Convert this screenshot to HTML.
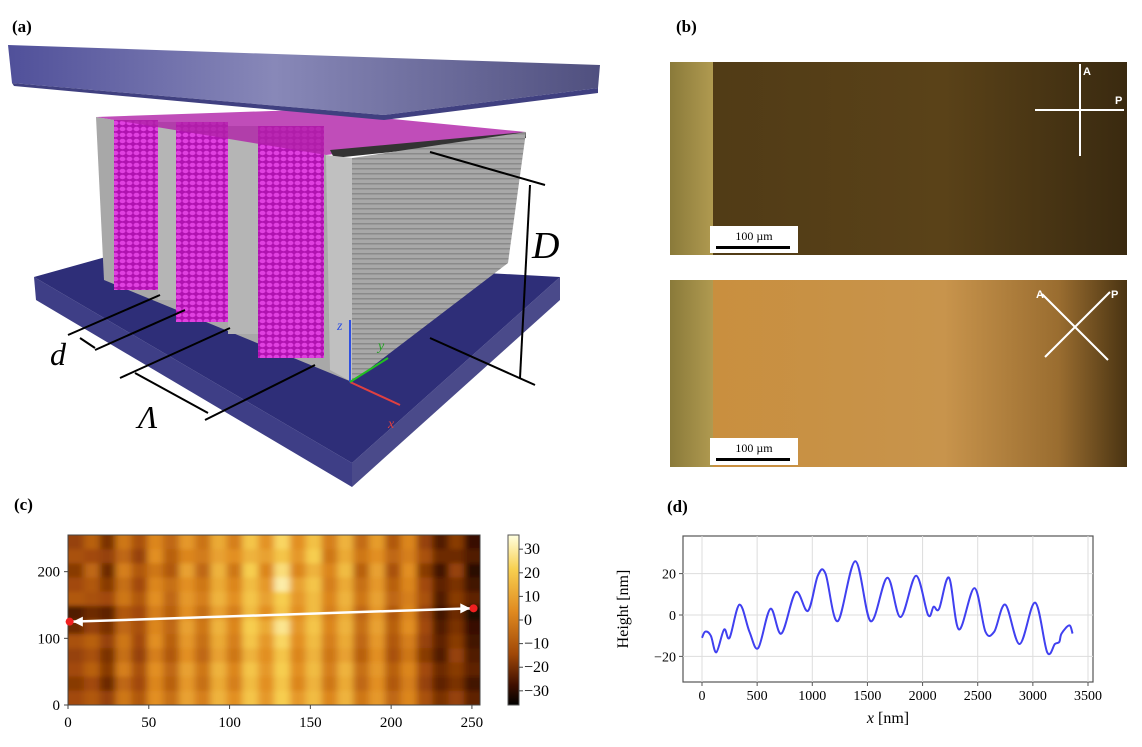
<!DOCTYPE html>
<html><head><meta charset="utf-8">
<style>
html,body{margin:0;padding:0;background:#fff;}
body{width:1142px;height:747px;position:relative;overflow:hidden;font-family:"Liberation Serif",serif;}
svg{position:absolute;left:0;top:0;}
</style></head>
<body>
<svg width="1142" height="747" viewBox="0 0 1142 747">
<defs>
<linearGradient id="plateTop" x1="0" x2="1" y1="0" y2="0">
<stop offset="0" stop-color="#50509a"/><stop offset="0.45" stop-color="#8888b8"/><stop offset="1" stop-color="#50507f"/></linearGradient>
<linearGradient id="imgTop" x1="0" x2="1"><stop offset="0" stop-color="#4f3a16"/><stop offset="0.6" stop-color="#5a4218"/><stop offset="1" stop-color="#3a2a10"/></linearGradient>
<linearGradient id="imgBot" x1="0" x2="1"><stop offset="0" stop-color="#c98e3c"/><stop offset="0.6" stop-color="#c8944c"/><stop offset="0.85" stop-color="#9a6d30"/><stop offset="1" stop-color="#4a3412"/></linearGradient>
<linearGradient id="leftStrip" x1="0" x2="1"><stop offset="0" stop-color="#8a7a3a"/><stop offset="1" stop-color="#b09a50"/></linearGradient>
<linearGradient id="cbar" x1="0" x2="0" y1="0" y2="1"><stop offset="0" stop-color="#ffffe0"/><stop offset="0.2" stop-color="#f8d050"/><stop offset="0.45" stop-color="#e08a20"/><stop offset="0.7" stop-color="#a04808"/><stop offset="0.88" stop-color="#401000"/><stop offset="1" stop-color="#000"/></linearGradient>
<pattern id="stripes" width="6" height="5" patternUnits="userSpaceOnUse"><rect width="6" height="5" fill="#a8a8a8"/><rect y="3" width="6" height="1.5" fill="#8a8a8a"/></pattern>
<pattern id="lc" width="7" height="6" patternUnits="userSpaceOnUse"><rect width="7" height="6" fill="#b012b0"/><ellipse cx="3.5" cy="3" rx="3" ry="2.2" fill="#e040e0"/></pattern>
<filter id="blur" x="0" y="0" width="1" height="1"><feGaussianBlur stdDeviation="3.5 2"/></filter>
<clipPath id="hclip"><rect x="68" y="535" width="412" height="170"/></clipPath>
</defs>

<!-- panel a -->
<g>
<text x="12" y="32" font-size="17" font-weight="bold">(a)</text>
<polygon points="34,277 352,463 352,487 36,300" fill="#3e3e86"/>
<polygon points="352,463 560,277 560,300 352,487" fill="#4a4a8a"/>
<polygon points="34,277 120,253 560,277 352,463" fill="#2e2e78"/>
<polygon points="96,117 326,155 352,382 104,280" fill="#a8a8a8"/>
<rect x="114" y="120" width="44" height="170" fill="url(#lc)"/>
<rect x="176" y="122" width="52" height="200" fill="url(#lc)"/>
<rect x="258" y="126" width="66" height="232" fill="url(#lc)"/>
<rect x="158" y="122" width="18" height="178" fill="#b5b5b5"/>
<rect x="228" y="126" width="30" height="208" fill="#b5b5b5"/>
<polygon points="96,117 300,110 526,132 326,155" fill="#b020a8" opacity="0.8"/>
<polygon points="330,150 526,132 526,138 334,158" fill="#333"/>
<polygon points="326,155 352,158 352,382 330,370" fill="#c0c0c0"/>
<polygon points="352,158 526,132 508,263 352,382" fill="url(#stripes)"/>
<polygon points="8,45 600,65 598,88 384,115 12,83" fill="url(#plateTop)"/>
<polygon points="12,83 384,115 598,88 598,93 384,120 14,86" fill="#404080"/>
<g stroke="#000" stroke-width="2" fill="none">
<line x1="430" y1="152" x2="545" y2="185"/><line x1="430" y1="338" x2="535" y2="385"/>
<line x1="530" y1="185" x2="520" y2="378"/>
<line x1="160" y1="295" x2="68" y2="335"/><line x1="185" y1="310" x2="95" y2="350"/>
<line x1="230" y1="328" x2="120" y2="378"/><line x1="315" y1="365" x2="205" y2="420"/>
<line x1="80" y1="338" x2="95" y2="348"/><line x1="135" y1="373" x2="208" y2="413"/>
</g>
<line x1="350" y1="382" x2="350" y2="320" stroke="#3050e0" stroke-width="2"/>
<line x1="350" y1="382" x2="400" y2="405" stroke="#e04040" stroke-width="2"/>
<line x1="350" y1="382" x2="388" y2="358" stroke="#20c020" stroke-width="2"/>
<text x="337" y="330" font-size="14" font-style="italic" fill="#3050e0">z</text>
<text x="378" y="350" font-size="14" font-style="italic" fill="#20a020">y</text>
<text x="388" y="428" font-size="14" font-style="italic" fill="#e04040">x</text>
<text x="532" y="258" font-size="38" font-style="italic">D</text>
<text x="50" y="365" font-size="32" font-style="italic">d</text>
<text x="138" y="428" font-size="32" font-style="italic">Λ</text>
</g>

<!-- panel b -->
<g>
<text x="676" y="32" font-size="17" font-weight="bold">(b)</text>
<rect x="670" y="62" width="457" height="193" fill="url(#imgTop)"/>
<rect x="670" y="62" width="43" height="193" fill="url(#leftStrip)"/>
<rect x="670" y="280" width="457" height="187" fill="url(#imgBot)"/>
<rect x="670" y="280" width="43" height="187" fill="url(#leftStrip)"/>
<g stroke="#fff" stroke-width="2">
<line x1="1080" y1="64" x2="1080" y2="156"/><line x1="1035" y1="110" x2="1124" y2="110"/>
<line x1="1045" y1="357" x2="1110" y2="292"/><line x1="1042" y1="294" x2="1108" y2="360"/>
</g>
<text x="1083" y="75" font-size="11" font-weight="bold" fill="#fff" font-family="Liberation Sans">A</text>
<text x="1115" y="104" font-size="11" font-weight="bold" fill="#fff" font-family="Liberation Sans">P</text>
<text x="1036" y="298" font-size="11" font-weight="bold" fill="#fff" font-family="Liberation Sans">A</text>
<text x="1111" y="298" font-size="11" font-weight="bold" fill="#fff" font-family="Liberation Sans">P</text>
<rect x="710" y="226" width="88" height="27" fill="#fff"/>
<text x="754" y="240" font-size="12" text-anchor="middle">100 µm</text><rect x="716" y="246" width="74" height="3" fill="#000"/>
<rect x="710" y="438" width="88" height="27" fill="#fff"/>
<text x="754" y="452" font-size="12" text-anchor="middle">100 µm</text><rect x="716" y="458" width="74" height="3" fill="#000"/>
</g>

<!-- panel c -->
<g id="heat">
<text x="14" y="510" font-size="17" font-weight="bold">(c)</text>
<g clip-path="url(#hclip)"><g id="cells" filter="url(#blur)"></g></g>
</g>

<!-- panel d -->
<g id="line">
<text x="667" y="512" font-size="17" font-weight="bold">(d)</text>
</g>
</svg>
<script>
// ---------- panel d data ----------
const profileX = [0,30,80,130,200,250,340,430,510,620,720,850,960,1050,1120,1230,1390,1530,1680,1800,1940,2050,2100,2150,2240,2330,2470,2570,2650,2750,2880,3020,3130,3200,3240,3260,3330,3360];
const profileY = [-11,-8,-10,-18,-7,-11,5,-8,-16,3,-9,11,2,19,20,-3,26,-3,18,-1,19,0,4,3,18,-7,13,-8,-8,5,-14,6,-18,-14,-13,-9,-5,-9];
const xTicks = [0,500,1000,1500,2000,2500,3000,3500];
const yTicks = [-20,0,20];
// ---------- panel c data ----------
const heatRows = [
[-12,-4,-16,2,-8,6,-2,10,1,14,4,20,9,24,8,19,4,16,-1,11,-6,6,-12,-22,-14,-26],
[-8,-10,-12,-2,-12,8,-4,6,3,12,8,16,12,20,10,22,2,14,2,8,-2,4,-8,-18,-18,-22],
[-14,-2,-18,4,-6,2,-6,12,-2,16,2,22,6,26,6,16,6,18,-4,12,-8,8,-14,-24,-12,-28],
[-10,-6,-14,0,-10,6,0,8,2,14,6,18,10,30,12,20,4,14,0,10,-4,6,-10,-20,-16,-24],
[-6,-8,-10,2,-6,8,-2,10,4,16,8,20,12,22,10,18,6,16,2,12,-2,4,-8,-22,-14,-20],
[-22,-18,-20,-6,-10,4,-4,8,0,12,4,18,8,20,8,18,4,14,-2,10,-6,6,-12,-24,-18,-30],
[-18,-12,-16,-2,-8,6,-2,12,2,16,6,22,14,28,10,20,6,16,0,12,-4,8,-10,-22,-16,-26],
[-8,-4,-12,2,-10,8,-4,10,0,14,4,20,10,24,8,18,4,14,-2,10,-6,4,-12,-20,-14,-24],
[-12,-8,-16,0,-12,4,-6,8,-2,12,2,16,8,20,6,16,2,12,-4,8,-8,2,-14,-22,-12,-22],
[-10,-4,-14,4,-8,8,-2,12,2,16,6,20,10,22,8,18,4,16,0,10,-4,6,-10,-18,-14,-20],
[-14,-10,-18,-2,-10,6,-4,10,0,14,4,18,8,20,6,16,2,14,-2,8,-6,4,-12,-20,-16,-24],
[-10,-6,-12,2,-6,8,0,12,4,16,8,20,10,22,10,18,6,16,2,10,-2,6,-8,-16,-12,-20]
];
const heatXTicks = [0,50,100,150,200,250];
const heatYTicks = [0,100,200];
const cbarTicks = [30,20,10,0,-10,-20,-30];

const NS = "http://www.w3.org/2000/svg";
function mk(tag, attrs, parent){const e=document.createElementNS(NS,tag);for(const k in attrs)e.setAttribute(k,attrs[k]);parent.appendChild(e);return e;}

// ----- panel d -----
const L = document.getElementById('line');
const px = v => 702 + (v/3500)*386;
const py = v => 615 - v*2.07;
const dbox = mk('rect',{x:683,y:536,width:410,height:146,fill:'#fff',stroke:'#555','stroke-width':1.2},L);


xTicks.forEach(t=>{
  const g = mk('line',{x1:px(t),x2:px(t),y1:536,y2:682,stroke:'#ddd'},L);
  
  
  mk('line',{x1:px(t),x2:px(t),y1:682,y2:686,stroke:'#555'},L);
  const tx = mk('text',{x:px(t),y:700,'font-size':14,'text-anchor':'middle'},L);
  tx.textContent = t;
  
  
});
yTicks.forEach(t=>{
  const g = mk('line',{x1:683,x2:1093,y1:py(t),y2:py(t),stroke:'#ddd'},L);
  
  
  mk('line',{x1:679,x2:683,y1:py(t),y2:py(t),stroke:'#555'},L);
  const tx = mk('text',{x:676,y:py(t)+5,'font-size':14,'text-anchor':'end'},L);
  tx.textContent = t<0 ? '\u221220' : t;
  
  
});
const pts = profileX.map((x,i)=>[px(x),py(profileY[i])]);
let d = 'M'+pts[0][0].toFixed(1)+','+pts[0][1].toFixed(1);
for(let i=0;i<pts.length-1;i++){
  const p0=pts[Math.max(0,i-1)],p1=pts[i],p2=pts[i+1],p3=pts[Math.min(pts.length-1,i+2)];
  const c1=[p1[0]+(p2[0]-p0[0])/6,p1[1]+(p2[1]-p0[1])/6];
  const c2=[p2[0]-(p3[0]-p1[0])/6,p2[1]-(p3[1]-p1[1])/6];
  d+=' C'+c1[0].toFixed(1)+','+c1[1].toFixed(1)+' '+c2[0].toFixed(1)+','+c2[1].toFixed(1)+' '+p2[0].toFixed(1)+','+p2[1].toFixed(1);
}
const pth = mk('path',{d:d,fill:'none',stroke:'#4040f0','stroke-width':2,'stroke-linejoin':'round'},L);


const xl = mk('text',{x:888,y:723,'font-size':16,'text-anchor':'middle'},L);
xl.innerHTML = '<tspan font-style="italic">x</tspan> [nm]';


const yl = mk('text',{x:0,y:0,'font-size':16,'text-anchor':'middle',transform:'translate(628,609) rotate(-90)'},L);
yl.textContent = 'Height [nm]';



// ----- panel c -----
const H = document.getElementById('heat');
const C = document.getElementById('cells');
const hx0=68, hx1=480, hy0=535, hy1=705;
function color(v){
  const t = Math.max(0,Math.min(1,(v+35)/70));
  const stops=[[0,[0,0,0]],[0.15,[64,16,0]],[0.35,[160,72,8]],[0.6,[224,138,32]],[0.82,[248,208,80]],[1,[255,255,224]]];
  for(let i=1;i<stops.length;i++){ if(t<=stops[i][0]){const a=stops[i-1],b=stops[i];const f=(t-a[0])/(b[0]-a[0]);return 'rgb('+a[1].map((c,j)=>Math.round(c+(b[1][j]-c)*f)).join(',')+')';}}
  return 'rgb(255,255,224)';
}
const nr = heatRows.length, nc = heatRows[0].length;
const cw=(hx1-hx0)/nc, ch=(hy1-hy0)/nr;
heatRows.forEach((row,r)=>row.forEach((v,c)=>{
  const cell = mk('rect',{x:hx0+c*cw-(c==0?8:0),y:hy0+r*ch-(r==0?8:0),width:cw+0.6+(c==0||c==nc-1?8:0),height:ch+0.6+(r==0||r==nr-1?8:0),fill:color(v)},C);
  
  
}));
mk('rect',{x:hx0,y:hy0,width:hx1-hx0,height:hy1-hy0,fill:'none',stroke:'#444'},H);
const hxs = v => hx0 + v/255*(hx1-hx0);
const hys = v => hy1 - v/255*(hy1-hy0);
heatXTicks.forEach(t=>{
  mk('line',{x1:hxs(t),x2:hxs(t),y1:hy1,y2:hy1+4,stroke:'#444'},H);
  const tx = mk('text',{x:hxs(t),y:hy1+22,'font-size':15,'text-anchor':'middle'},H);
  tx.textContent=t;
  
  
});
heatYTicks.forEach(t=>{
  mk('line',{x1:hx0-4,x2:hx0,y1:hys(t),y2:hys(t),stroke:'#444'},H);
  const tx = mk('text',{x:hx0-8,y:hys(t)+5,'font-size':15,'text-anchor':'end'},H);
  tx.textContent=t;
  
  
});
const arr = mk('line',{x1:hxs(3),y1:hys(125),x2:hxs(249),y2:hys(145),stroke:'#fff','stroke-width':2.5},H);


mk('polygon',{points:`${hxs(3)},${hys(125)} ${hxs(3)+10},${hys(125)-5} ${hxs(3)+10},${hys(125)+5}`,fill:'#fff'},H);
mk('polygon',{points:`${hxs(249)},${hys(145)} ${hxs(249)-10},${hys(145)-5} ${hxs(249)-10},${hys(145)+5}`,fill:'#fff'},H);
mk('circle',{cx:hxs(1),cy:hys(125),r:4,fill:'#f02020'},H);
mk('circle',{cx:hxs(251),cy:hys(145),r:4,fill:'#f02020'},H);
const cb = mk('rect',{x:508,y:535,width:11,height:170,fill:'url(#cbar)',stroke:'#555'},H);


cbarTicks.forEach(t=>{
  const y = 620 - t*(170/72);
  mk('line',{x1:519,x2:523,y1:y,y2:y,stroke:'#444'},H);
  const tx = mk('text',{x:524,y:y+5,'font-size':16},H);
  tx.textContent = t<0 ? '\u2212'+(-t) : t;
  
  
});
</script>
</body></html>
